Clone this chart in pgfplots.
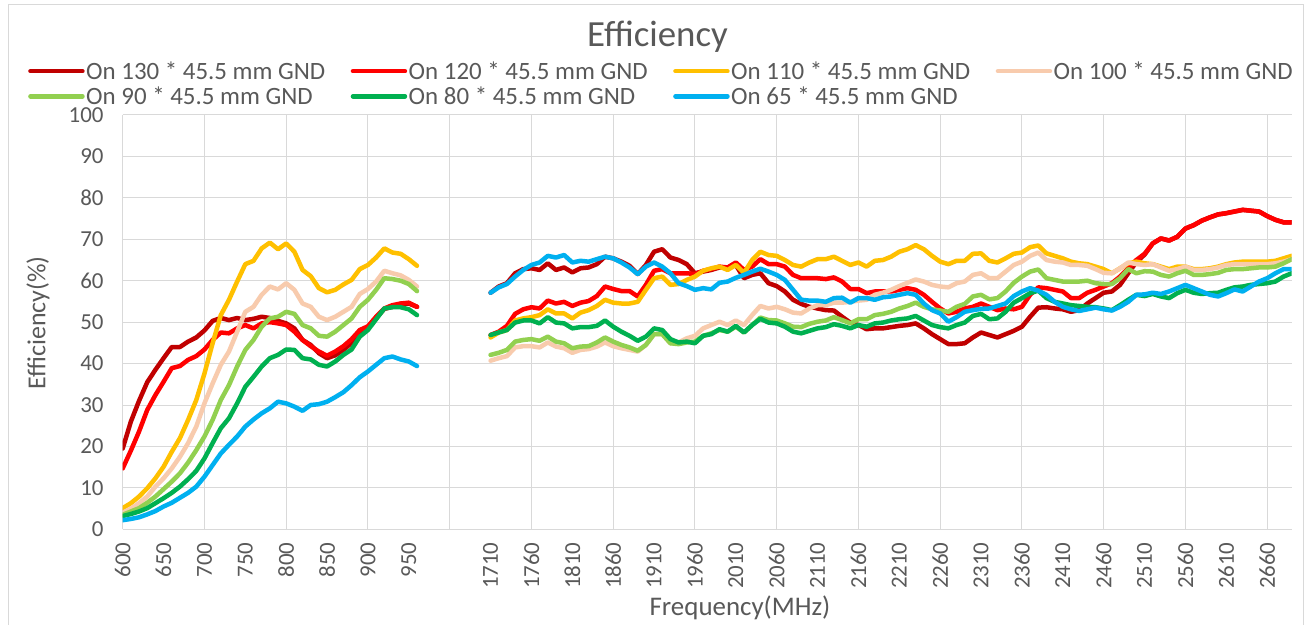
\documentclass[border=0pt]{standalone}
\usepackage{pgfplots}
\usepackage{pgfplotstable}
\pgfplotsset{compat=1.18}
\usepackage{fontspec}
\setmainfont{Carlito}
\definecolor{txt}{HTML}{595959}
\definecolor{gridc}{HTML}{D9D9D9}
\definecolor{cA}{HTML}{C00000}
\definecolor{cB}{HTML}{FF0000}
\definecolor{cC}{HTML}{FFC000}
\definecolor{cD}{HTML}{F8CBAD}
\definecolor{cE}{HTML}{92D050}
\definecolor{cF}{HTML}{00B050}
\definecolor{cG}{HTML}{00B0F0}

\pgfplotstableread{
f a b c d e g h
600 19.5 14.7 5.1 4.0 3.5 3.2 2.2
610 26 19 6.3 5.0 4.3 3.7 2.5
620 31 23.6 7.9 6.3 5.1 4.3 2.9
630 35.5 28.8 9.9 7.9 6.4 5.1 3.6
640 38.5 32.4 12.3 10.3 7.9 6.3 4.4
650 41.3 35.6 15.1 12.3 9.7 7.5 5.5
660 44 38.9 18.7 14.7 11.5 8.8 6.4
670 44 39.4 22 17.5 13.5 10.3 7.6
680 45.3 40.9 26.4 20.8 16.1 12.1 8.8
690 46.3 41.8 31.2 24.8 19.1 14.1 10.3
700 48 43.4 37.6 30.4 22.4 17.1 12.7
710 50.3 45.7 44.9 35.2 26.4 20.8 15.5
720 51 47.5 51.7 39.7 31.2 24.4 18.3
730 50.5 47.3 55.4 42.9 34.8 26.8 20.4
740 51 48.5 59.8 47.7 39.3 30.4 22.4
750 50.5 49.3 64 52.5 43.3 34.4 24.8
760 50.8 48.5 64.8 53.7 45.7 36.8 26.5
770 51.3 49.7 67.8 56.6 48.9 39.3 28
780 51 50 69.2 58.6 50.9 41.3 29.2
790 50.3 49.7 67.6 57.9 51.3 42.1 30.8
800 49.7 49.3 69 59.4 52.5 43.4 30.4
810 48.5 47.7 67 57.8 52 43.3 29.6
820 45.7 45.7 62.6 54.5 49.3 41.3 28.6
830 44.5 44.2 61.1 53.7 48.5 41 30
840 42.5 42.9 58.2 51.3 46.7 39.7 30.2
850 41.3 41.9 57.2 50.5 46.5 39.3 30.8
860 42 42.9 57.8 51.3 47.7 40.5 31.9
870 43.3 44.2 59.1 52.5 49.3 42.1 33.1
880 45 45.9 60.2 53.7 50.9 43.4 34.8
890 47 48.1 62.8 56.8 53.7 46.5 36.7
900 48.5 49 63.8 58 55.4 48.1 38.1
910 51 51.3 65.6 59.8 57.8 50.7 39.7
920 53.2 53.3 67.8 62.4 60.6 53.3 41.3
930 53.7 54.1 66.8 61.8 60.4 53.6 41.7
940 54.4 54.5 66.5 61.3 60 53.6 41
950 54.5 54.7 65.2 60.2 59.2 53.1 40.5
960 53.7 53.7 63.6 58.6 57.5 51.7 39.4
}\low

\pgfplotstableread{
f a b c d e g h
1710 57.1 46.9 46.3 40.7 42.1 46.9 57.1
1720 58.6 47.7 47.5 41.3 42.6 47.5 58.4
1730 59.4 49.1 48.1 41.8 43.3 48.1 59.2
1740 61.8 52 50.4 43.9 45.3 49.9 61
1750 62.8 53.1 50.9 44.2 45.7 50.4 62.6
1760 63 53.6 51.2 44.2 45.9 50.4 63.8
1770 62.6 53.3 51.7 43.9 45.5 49.7 64.4
1780 64.2 55.2 53.1 45.1 46.5 51.2 66
1790 62.6 54.5 52.1 44.1 45.3 49.9 65.6
1800 63.2 54.9 52.1 43.7 44.9 49.7 66.2
1810 62 53.9 50.9 42.6 43.7 48.5 64.4
1820 63 54.7 52.3 43.3 44.1 48.8 64.8
1830 63.2 55.1 52.9 43.5 44.2 48.8 64.6
1840 64 56.3 53.9 44.1 45.1 49.1 65.2
1850 65.8 58.6 55.4 45.1 46.3 50.4 65.8
1860 65.4 58 54.7 44.2 45.3 48.9 65.4
1870 64.6 57.5 54.5 43.7 44.5 47.7 64.4
1880 63.6 57.5 54.5 43.3 43.9 46.7 63.2
1890 61.6 56.2 54.9 42.9 43.1 45.5 61.6
1900 63.8 59 57.8 44.5 44.5 46.5 63.4
1910 67 62.4 60.6 47.1 47.1 48.5 64.4
1920 67.6 62.8 61 47.1 47.1 48.1 63.4
1930 65.6 61.8 59 44.9 44.9 45.9 61.8
1940 65 61.8 59.2 45.1 44.7 45.1 59.4
1950 64 61.8 60.2 46.1 45.1 45.3 58.7
1960 61.8 61.6 61 46.7 45.3 44.9 57.8
1970 62.2 62.4 62.4 48.5 46.7 46.7 58.2
1980 62.6 62.8 63 49.3 47.3 47.1 57.9
1990 63.2 63.4 63.4 50.1 48.1 48.3 59.5
2000 63.2 63.2 62.6 49.3 47.7 47.7 59.8
2010 63.8 64.4 63.8 50.4 48.9 49.1 60.7
2020 60.6 62.6 61.9 49.3 47.5 47.5 61.4
2030 61.4 63.4 65 51.7 49.3 49.3 62.2
2040 61.8 65.2 67 53.9 51.1 50.8 62.9
2050 59.4 64 66.2 53.3 50.5 49.9 62.2
2060 58.7 64 66 53.7 50.4 49.7 61.4
2070 57.4 63.4 65 53.1 49.7 48.9 60.2
2080 55.4 61.4 63.8 52.3 48.9 47.7 57.8
2090 54.4 60.6 63.4 52.1 48.8 47.3 55.4
2100 53.7 60.6 64.4 53.3 49.6 47.9 55.2
2110 53.3 60.6 65.2 54.1 50.1 48.5 55.2
2120 52.9 60.4 65.2 54.1 50.4 48.8 54.9
2130 52.8 60.8 65.8 54.7 51.2 49.5 55.8
2140 51.3 59.8 64.8 54.7 50.5 49.1 55.9
2150 49.9 58 63.8 54.9 49.7 48.5 54.7
2160 49.3 58 64.4 55.2 50.7 49.3 55.8
2170 48.3 57 63.4 55.4 50.7 48.9 55.8
2180 48.5 57.4 64.8 56.6 51.7 49.7 55.4
2190 48.5 57.4 65 57.1 52 49.9 56
2200 48.8 57.4 65.8 57.8 52.5 50.4 56.2
2210 49.1 57.8 67 58.7 53.3 50.7 56.6
2220 49.3 58.2 67.6 59.5 53.9 50.9 57
2230 49.7 57.8 68.6 60.3 54.7 51.5 56.6
2240 48.5 56.6 67.6 59.8 53.7 50.4 54.5
2250 47.1 54.9 66 59 53.1 49.3 52.9
2260 45.9 53.3 64.6 58.6 52.8 48.8 52.1
2270 44.7 52.1 64 58.4 52.5 48.5 50.1
2280 44.7 52.5 64.8 59.4 53.7 49.3 51.2
2290 44.9 53.3 64.8 59.8 54.4 49.9 52.5
2300 46.3 53.7 66.5 61.4 56.2 51.5 52.9
2310 47.5 54.5 66.6 61.8 56.6 52 53.2
2320 46.9 53.7 64.8 60.6 55.5 50.7 53.3
2330 46.3 52.9 64.4 60.6 55.8 50.9 53.9
2340 47.1 53.3 65.4 62.2 57.4 52.5 54.5
2350 47.9 53.1 66.5 63.8 59.5 54.7 56.3
2360 48.9 53.7 66.8 64.6 61 55.8 57.4
2370 51.3 56.6 68.1 66 62.2 57 58.2
2380 53.5 58.4 68.5 66.8 62.7 57.6 57.6
2390 53.6 58.2 66.6 65 60.6 55.8 56.6
2400 53.3 57.8 66 64.6 60.2 54.9 54.9
2410 53.1 57.4 65.4 64.4 59.8 54.5 53.7
2420 52.5 55.8 64.6 63.8 59.8 54.1 53.1
2430 52.9 55.8 64.2 63.8 59.8 53.9 52.7
2440 54.5 57.1 64 63.6 60 53.7 53.1
2450 55.8 57.8 63.4 62.8 59.4 53.6 53.5
2460 57.1 58.6 62.8 61.9 59.2 53.3 53.1
2470 57.4 59.4 61.8 61.8 59.2 52.9 52.8
2480 59 61 63 63 60.6 54.1 53.7
2490 61.8 63 64.2 64.4 62.8 55.4 54.9
2500 64.5 65 64.6 64 61.8 56.6 56.6
2510 66.3 66.5 64.2 63.8 62.3 56.3 56.7
2520 69 69 64 64 62.2 56.8 57.1
2530 70.2 70.2 63.4 63.2 61.4 56.2 56.8
2540 69.7 69.7 62.8 62.4 61 55.8 57.4
2550 70.6 70.6 63.4 62.8 61.8 57 58.2
2560 72.6 72.6 63.4 63.4 62.4 57.8 59
2570 73.4 73.4 62.8 62.6 61.4 57.1 58.2
2580 74.5 74.5 62.8 62.6 61.4 56.8 57.4
2590 75.3 75.3 63 62.8 61.6 57 56.6
2600 76 76 63.4 63.2 61.9 57.1 56.2
2610 76.3 76.3 64 63.8 62.6 57.8 57
2620 76.7 76.7 64.4 64 62.8 58.4 57.9
2630 77.1 77.1 64.6 64 62.8 58.6 57.4
2640 76.9 76.9 64.6 64 63 59 58.6
2650 76.7 76.7 64.6 64 63.2 59.2 59.8
2660 75.6 75.6 64.6 64 63.2 59.4 60.6
2670 74.7 74.7 64.8 64.2 63.4 59.8 61.8
2680 74.1 74.1 65.4 64.6 64.2 61 62.8
2690 74.1 74.1 66 65.2 65.2 61.8 62.8
}\high

\pgfplotsset{
  ser/.style={color=#1, line width=4.5bp, line join=round, line cap=round, mark=none},
}

\begin{document}
\begin{tikzpicture}
\path[use as bounding box] (0,0) rectangle (1310bp,625bp);
\fill[white] (0,0) rectangle (1310bp,625bp);
\draw[gridc, line width=1bp] (8bp,-10bp) rectangle (1303bp,620bp);
\begin{axis}[
  at={(122.7bp,95.7bp)}, anchor=south west,
  scale only axis, width=1169bp, height=414.3bp,
  xmin=0, xmax=143, ymin=0, ymax=100,
  axis line style={draw=none},
  xtick={0,5,...,140},
  xticklabels={600,650,700,750,800,850,900,950,{},1710,1760,1810,1860,1910,1960,2010,2060,2110,2160,2210,2260,2310,2360,2410,2460,2510,2560,2610,2660},
  minor xtick={0,10,...,140},
  xminorgrids=true, xmajorgrids=false,
  ytick={0,10,...,100}, ymajorgrids=true,
  major tick length=0pt, minor tick length=0pt,
  grid style={color=gridc, line width=1bp},
  minor grid style={color=gridc, line width=1bp},
  tick label style={font=\fontsize{23}{27}\selectfont, text=txt},
  xticklabel style={yshift=-13bp, rotate=90, anchor=east, inner sep=0pt},
  yticklabel style={anchor=east, inner sep=0pt, xshift=-19bp},
  /pgf/number format/assume math mode=true,
  legend columns=4,
  legend cell align=left,
  legend style={at={(axis description cs:-0.081,1.133)}, anchor=north west,
    draw=none, fill=none, font=\fontsize{25}{30}\selectfont, text=txt,
    inner sep=0pt, row sep=3bp, nodes={inner sep=1.5bp}},
  legend image code/.code={\draw[#1, line width=4.5bp, line cap=round] (0bp,0bp) -- (52bp,0bp);},
]
\addplot[ser=cA] table[x expr={(\thisrow{f}-600)/10}, y=a] {\low};
\addlegendentry{\makebox[263bp][l]{On 130 * 45.5 mm GND}}
\addplot[ser=cA, forget plot] table[x expr={(\thisrow{f}-1710)/10+45}, y=a] {\high};
\addplot[ser=cB] table[x expr={(\thisrow{f}-600)/10}, y=b] {\low};
\addlegendentry{\makebox[263bp][l]{On 120 * 45.5 mm GND}}
\addplot[ser=cB, forget plot] table[x expr={(\thisrow{f}-1710)/10+45}, y=b] {\high};
\addplot[ser=cC] table[x expr={(\thisrow{f}-600)/10}, y=c] {\low};
\addlegendentry{\makebox[263bp][l]{On 110 * 45.5 mm GND}}
\addplot[ser=cC, forget plot] table[x expr={(\thisrow{f}-1710)/10+45}, y=c] {\high};
\addplot[ser=cD] table[x expr={(\thisrow{f}-600)/10}, y=d] {\low};
\addlegendentry{\makebox[263bp][l]{On 100 * 45.5 mm GND}}
\addplot[ser=cD, forget plot] table[x expr={(\thisrow{f}-1710)/10+45}, y=d] {\high};
\addplot[ser=cE] table[x expr={(\thisrow{f}-600)/10}, y=e] {\low};
\addlegendentry{\makebox[263bp][l]{On 90 * 45.5 mm GND}}
\addplot[ser=cE, forget plot] table[x expr={(\thisrow{f}-1710)/10+45}, y=e] {\high};
\addplot[ser=cF] table[x expr={(\thisrow{f}-600)/10}, y=g] {\low};
\addlegendentry{\makebox[263bp][l]{On 80 * 45.5 mm GND}}
\addplot[ser=cF, forget plot] table[x expr={(\thisrow{f}-1710)/10+45}, y=g] {\high};
\addplot[ser=cG] table[x expr={(\thisrow{f}-600)/10}, y=h] {\low};
\addlegendentry{\makebox[263bp][l]{On 65 * 45.5 mm GND}}
\addplot[ser=cG, forget plot] table[x expr={(\thisrow{f}-1710)/10+45}, y=h] {\high};
\end{axis}
\node[anchor=base, text=txt, font=\fontsize{37}{44}\selectfont] at (657.5bp,578bp) {Efficiency};
\node[rotate=90, text=txt, font=\fontsize{26}{31}\selectfont] at (38bp,302bp) {Efficiency(\%)};
\node[anchor=base, text=txt, font=\fontsize{27}{32}\selectfont] at (740bp,10bp) {Frequency(MHz)};
\end{tikzpicture}
\end{document}
